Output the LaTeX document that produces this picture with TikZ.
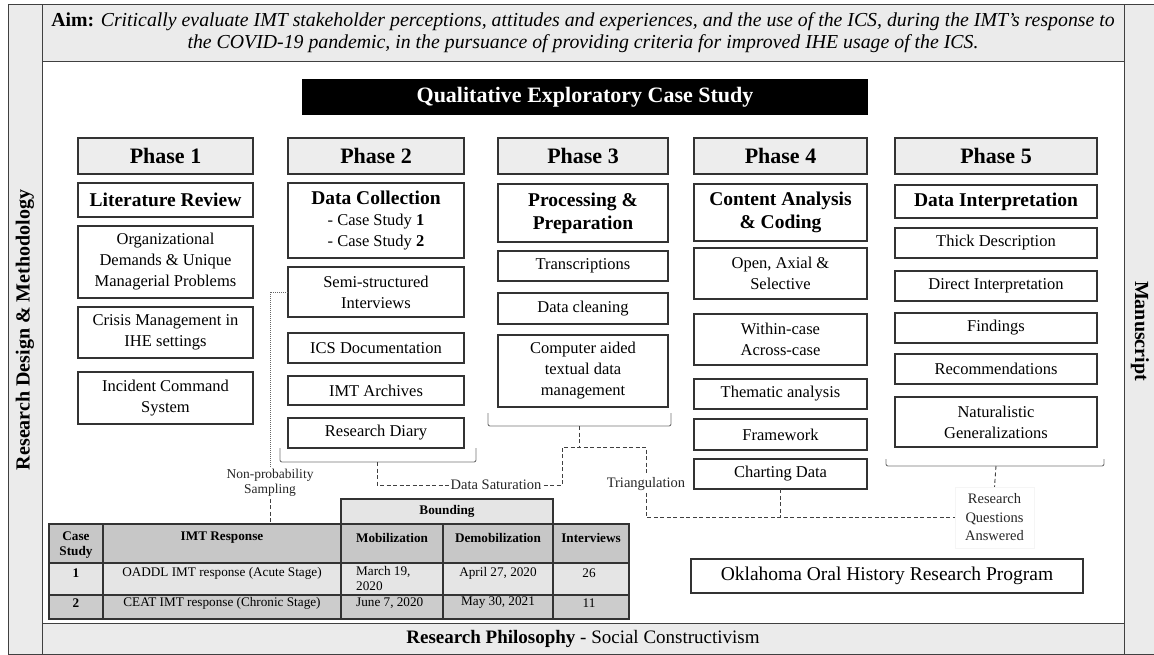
\documentclass[tikz,border=0pt]{standalone}
\usepackage{fontspec}
\setmainfont{Liberation Serif}
\newcommand\fsbody{\fontsize{16.5}{21}\selectfont}
\newcommand\fstitle{\fontsize{19.5}{23}\selectfont\bfseries}
\newcommand\fsphase{\fontsize{22}{26}\selectfont\bfseries}
\newcommand\fstab{\fontsize{13.2}{15}\selectfont}
\newcommand\fslbl{\fontsize{14.5}{18}\selectfont}
\begin{document}
\begin{tikzpicture}[x=1pt,y=-1pt,
  frameline/.style={draw=black!75,line width=1pt},
  stripfill/.style={fill=black!8},
  cell/.style={draw=black!80,line width=1.1pt,fill=white,inner sep=0pt,outer sep=0pt,align=center},
  item/.style={cell,font=\fsbody},
  ttl/.style={cell,font=\fstitle},
  phase/.style={cell,fill=black!7,font=\fsphase},
  c1/.style={minimum width=175pt},
  c2/.style={minimum width=176pt},
  c3/.style={minimum width=170pt},
  c4/.style={minimum width=173pt},
  c5/.style={minimum width=202pt},
  brk/.style={draw=black!55,line width=0.9pt,rounded corners=2pt},
  dsh/.style={draw=black!75,line width=0.9pt,dash pattern=on 4pt off 2.5pt},
  fdot/.style={draw=black!60,line width=0.7pt,dash pattern=on 1pt off 1pt},
  lbl/.style={inner sep=2pt,font=\fslbl,align=center,text=black!85},
  tline/.style={draw=black!80,line width=1.2pt},
  tx/.style={inner sep=0pt,font=\fstab,align=center}
]
\useasboundingbox (0,0) rectangle (1154,655);

% outer frame: side strips, aim banner, philosophy banner
\path[stripfill] (8,5) rectangle (42,654);
\path[stripfill] (1124,5) rectangle (1160,654);
\path[stripfill] (42,5) rectangle (1124,62);
\path[stripfill] (42,623) rectangle (1124,654);
\draw[frameline] (8,654) -- (8,5) -- (1160,5);
\draw[frameline] (8,654) -- (1160,654);
\draw[frameline] (42,5) -- (42,654);
\draw[frameline] (1124,5) -- (1124,654);
\draw[frameline] (42,62) -- (1124,62);
\draw[frameline] (42,623) -- (1124,623);

\node[font=\fontsize{19.8}{22}\selectfont,align=center] (aim) at (583,33)
  {\textbf{Aim:} \textit{Critically evaluate IMT stakeholder perceptions, attitudes and experiences, and the use of the ICS, during the IMT’s response to}\\
   \textit{the COVID-19 pandemic, in the pursuance of providing criteria for improved IHE usage of the ICS.}};
\node[font=\fontsize{19}{22}\selectfont] (phil) at (583,639)
  {\textbf{Research Philosophy} - Social Constructivism};
\node[rotate=90,font=\fontsize{20}{22}\selectfont\bfseries] (rdm) at (25,330) {Research Design \& Methodology};
\node[rotate=-90,font=\fontsize{20}{22}\selectfont\bfseries] (man) at (1140,331) {Manuscript};

% case study banner
\node[fill=black,text=white,minimum width=566pt,minimum height=36pt,inner sep=0pt,
  font=\fontsize{22}{26}\selectfont\bfseries] (qecs) at (585,97) {Qualitative Exploratory Case Study};

% phase 1
\node[phase,c1,minimum height=36pt] (ph1) at (165.5,156) {Phase 1};
\node[ttl,c1,minimum height=34pt] (lit) at (165.5,200) {Literature Review};
\node[item,c1,minimum height=72pt] (org) at (165.5,262) {Organizational\\Demands \& Unique\\Managerial Problems};
\node[item,c1,minimum height=51pt] (cri) at (165.5,332.5) {Crisis Management in\\IHE settings};
\node[item,c1,minimum height=52pt] (inc) at (165.5,398) {Incident Command\\System};

% phase 2
\node[phase,c2,minimum height=36pt] (ph2) at (376,156) {Phase 2};
\node[item,c2,minimum height=75pt] (dcol) at (376,220.5)
  {{\fstitle Data Collection}\\- Case Study \textbf{1}\\- Case Study \textbf{2}};
\node[item,c2,minimum height=50pt] (semi) at (376,292) {Semi-structured\\Interviews};
\node[item,c2,minimum height=30pt] (icsd) at (376,348) {ICS Documentation};
\node[item,c2,minimum height=29pt] (arch) at (376,390.5) {IMT Archives};
\node[item,c2,minimum height=30pt] (diary) at (376,433) {Research Diary};

% phase 3
\node[phase,c3,minimum height=36pt] (ph3) at (583,156) {Phase 3};
\node[ttl,c3,minimum height=58pt] (proc) at (583,213) {Processing \&\\Preparation};
\node[item,c3,minimum height=30pt] (trans) at (583,266) {Transcriptions};
\node[item,c3,minimum height=31pt] (clean) at (583,308.5) {Data cleaning};
\node[item,c3,minimum height=72pt] (comp) at (583,371) {Computer aided\\textual data\\management};

% phase 4
\node[phase,c4,minimum height=36pt] (ph4) at (780.5,156) {Phase 4};
\node[ttl,c4,minimum height=57pt] (cont) at (780.5,212.5) {Content Analysis\\\& Coding};
\node[item,c4,minimum height=51pt] (open) at (780.5,273.5) {Open, Axial \&\\Selective};
\node[item,c4,minimum height=51pt] (within) at (780.5,339.5) {Within-case\\Across-case};
\node[item,c4,minimum height=30pt] (them) at (780.5,394) {Thematic analysis};
\node[item,c4,minimum height=31pt] (frame) at (780.5,434.5) {Framework};
\node[item,c4,minimum height=30pt] (chart) at (780.5,474) {Charting Data};

% phase 5
\node[phase,c5,minimum height=36pt] (ph5) at (996,156) {Phase 5};
\node[ttl,c5,minimum height=33pt] (dint) at (996,201.5) {Data Interpretation};
\node[item,c5,minimum height=30pt] (thick) at (996,243) {Thick Description};
\node[item,c5,minimum height=30pt] (direct) at (996,286) {Direct Interpretation};
\node[item,c5,minimum height=30pt] (find) at (996,328) {Findings};
\node[item,c5,minimum height=30pt] (recom) at (996,369) {Recommendations};
\node[item,c5,minimum height=50pt] (natgen) at (996,422) {Naturalistic\\Generalizations};

\node[item,minimum width=392pt,minimum height=34pt,font=\fontsize{19.5}{22}\selectfont] (ookl) at (887,576)
  {Oklahoma Oral History Research Program};

% brackets under phases 2, 3 and 5
\draw[brk] (280,448) -- (280,462) -- (476,462) -- (476,448);
\draw[brk] (488,413) -- (488,426) -- (671,426) -- (671,413);
\draw[brk] (886,459) -- (886,466) -- (1104,466) -- (1104,459);
\coordinate (b2) at (377,462);
\coordinate (b3) at (579,426);
\coordinate (b5) at (996,466);
\coordinate (tl) at (562,447);
\coordinate (tr) at (646,447);

% connector labels
\node[lbl] (sat) at (496,485) {Data Saturation};
\node[lbl] (tri) at (646,484) {Triangulation};
\node[lbl,font=\fontsize{13.5}{15}\selectfont] (nps) at (270,483) {Non-probability\\Sampling};
\node[lbl,font=\fontsize{14.5}{18.5}\selectfont,draw=black!4,minimum width=79pt,minimum height=61pt,inner sep=0pt] (rqa) at (994.5,517.5)
  {Research\\Questions\\Answered};

% table
\path[fill=black!22] (49,524) rectangle (629,563);
\path[fill=black!10] (341,499) rectangle (553,524);
\path[fill=black!10] (49,563) rectangle (629,595);
\path[fill=black!20] (49,595) rectangle (629,619);
\draw[tline] (49,524) rectangle (629,619);
\draw[tline] (341,499) rectangle (553,524);
\draw[tline] (49,563) -- (629,563);
\draw[tline] (49,595) -- (629,595);
\foreach \cx in {103,341,443,553} \draw[tline] (\cx,524) -- (\cx,619);
\coordinate (ttop) at (270,524);

\node[tx,font=\fstab\bfseries] (hbound) at (447,511.5) {Bounding};
\node[tx,font=\fstab\bfseries] (hcase) at (76,545) {Case\\Study};
\node[tx,font=\fstab\bfseries] (himt) at (222,538) {IMT Response};
\node[tx,font=\fstab\bfseries] (hmob) at (392,538) {Mobilization};
\node[tx,font=\fstab\bfseries] (hdem) at (498,538) {Demobilization};
\node[tx,font=\fstab\bfseries] (hint) at (591,538) {Interviews};
\node[tx,font=\fstab\bfseries] (r1a) at (76,573) {1};
\node[tx] (r1b) at (222,573) {OADDL IMT response (Acute Stage)};
\node[tx,align=left,anchor=north west] (r1c) at (356,566) {March 19,\\2020};
\node[tx] (r1d) at (498,573) {April 27, 2020};
\node[tx] (r1e) at (589,573) {26};
\node[tx,font=\fstab\bfseries] (r2a) at (76,603) {2};
\node[tx] (r2b) at (222,603) {CEAT IMT response (Chronic Stage)};
\node[tx,anchor=west] (r2c) at (356,603) {June 7, 2020};
\node[tx] (r2d) at (498,603) {May 30, 2021};
\node[tx] (r2e) at (589,603) {11};

% connectors
\draw[fdot] (semi.west) -| (nps.north);
\draw[dsh] (nps.south) -- (ttop);
\draw[dsh] (b2) |- (sat.west);
\draw[dsh] (b3) -- (b3 |- tl);
\draw[dsh] (sat.east) -| (tl) -- (tr) -- (tri.north);
\draw[dsh] (tri.south) |- (rqa.west);
\draw[dsh] (chart.south) -- (chart.south |- rqa.west);
\draw[dsh] (b5) -- (rqa.north);
\end{tikzpicture}
\end{document}
